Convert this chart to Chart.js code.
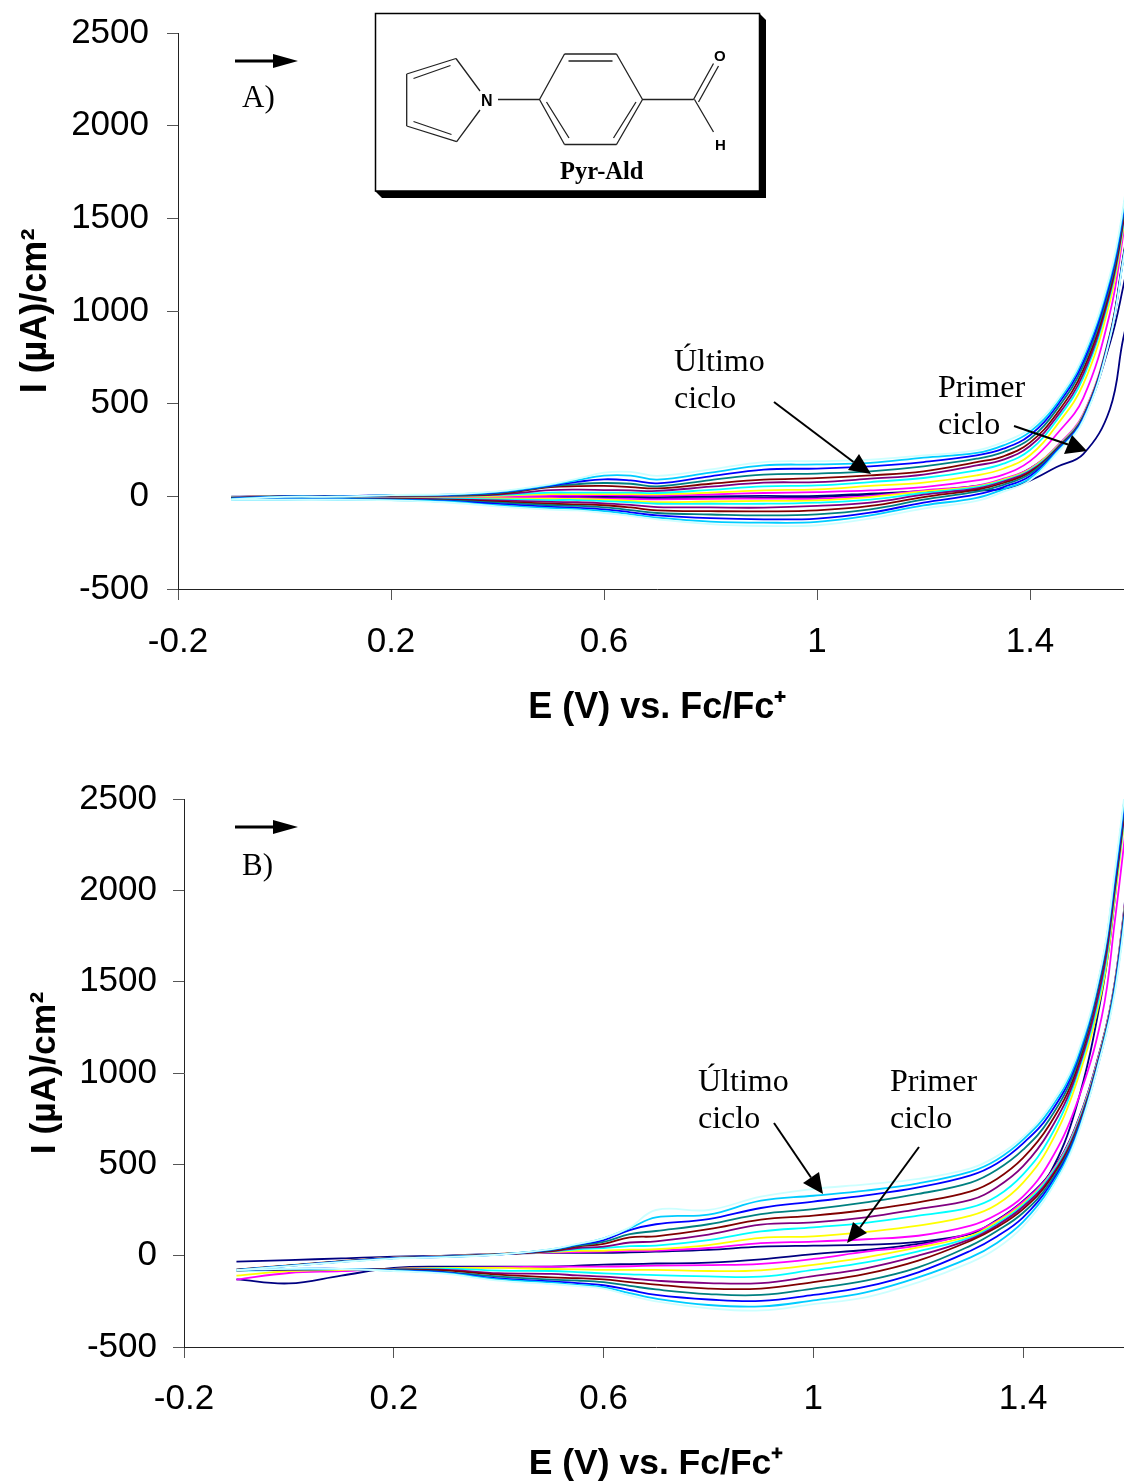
<!DOCTYPE html>
<html lang="es">
<head>
<meta charset="UTF-8">
<title>Pyr-Ald</title>
<script src="https://cdn.jsdelivr.net/npm/chart.js@4/dist/chart.umd.min.js"></script>
<style>
html, body { margin: 0; padding: 0; background: #fff; overflow: hidden; }
#page { position: relative; width: 1124px; height: 1484px; overflow: hidden; }
canvas { position: absolute; left: 0; }
</style>
</head>
<body>
<div id="page">
    <canvas id="chartA" width="1160" height="780" style="top:-40px"></canvas>
    <canvas id="chartB" width="1160" height="748" style="top:740px"></canvas>
</div>
<script>
// potential grid (V), same for both scan directions
const potentials = [-0.1,0,0.1,0.2,0.3,0.4,0.5,0.55,0.6,0.65,0.7,0.8,0.9,1.0,1.1,1.2,1.3,1.35,1.4,1.45,1.5,1.55,1.575,1.6];
const xTicks = [-0.2,0.2,0.6,1,1.4];
const yTicks = [-500,0,500,1000,1500,2000,2500];
const cycleColors = ['#000080','#FF00FF','#FFFF00','#00FFFF','#800080','#800000','#008080','#0000FF','#00CCFF','#CCFFFF'];

// A) forward scan, cycle 1..10
const a1Forward = [-6,-8,-8,-8,-8,-6,-6,-7,-8,-10,-12,-10,-8,-4,8,25,32,40,85,158,228,470,850,1150];
const a2Forward = [-8,-9,-9,-10,-9,-8,-8,-10,-12,-14,-16,-14,-12,-12,2,32,58,95,150,270,445,875,1295,1725];
const a3Forward = [-9,-10,-10,-11,-11,-11,-13,-14,-18,-24,-31,-28,-25,-22,-4,27,54,90,146,265,440,872,1293,1722];
const a4Forward = [-10,-11,-11,-12,-13,-16,-20,-20,-26,-32,-40,-40,-40,-34,-18,18,50,85,142,262,436,870,1290,1719];
const a5Forward = [-11,-12,-12,-13,-16,-22,-30,-32,-38,-46,-58,-60,-61,-52,-34,9,43,80,136,258,432,868,1287,1716];
const a6Forward = [-12,-13,-13,-15,-19,-28,-40,-44,-48,-60,-76,-80,-81,-76,-52,-4,36,72,130,254,428,865,1284,1713];
const a7Forward = [-14,-14,-14,-16,-22,-34,-48,-52,-60,-74,-90,-98,-103,-97,-70,-18,25,62,122,250,424,862,1281,1710];
const a8Forward = [-15,-15,-15,-18,-25,-41,-57,-62,-70,-86,-103,-118,-124,-120,-88,-34,10,50,110,245,420,858,1278,1707];
const a9Forward = [-17,-17,-17,-20,-28,-48,-64,-70,-80,-97,-115,-136,-142,-138,-103,-49,-8,38,98,238,414,854,1274,1703];
const a10Forward = [-18,-18,-18,-22,-32,-54,-72,-76,-90,-106,-124,-150,-160,-156,-120,-66,-25,25,86,232,408,850,1270,1700];
// A) return scan
const a1Return = [-2,2,1,-1,-3,-3,-3,-2,-2,-3,-4,0,2,2,15,29,56,86,150,262,425,825,1130,1500];
const a2Return = [-4,2,1,0,-1,0,3,4,6,5,4,10,18,23,32,50,86,117,190,335,530,987,1410,1890];
const a3Return = [-5,2,1,1,0,3,12,12,12,12,11,20,32,38,56,74,113,149,222,383,605,1050,1440,1930];
const a4Return = [-6,1,1,2,2,7,20,20,20,20,18,35,54,59,77,99,140,176,250,410,640,1080,1460,1960];
const a5Return = [-7,1,1,3,3,10,33,36,34,32,29,52,74,77,95,117,167,198,272,428,660,1095,1475,1980];
const a6Return = [-9,0,1,4,5,14,50,55,56,50,43,68,90,98,113,135,185,216,290,446,682,1115,1490,2000];
const a7Return = [-10,0,0,5,6,17,54,66,72,68,54,88,117,123,135,162,203,239,310,468,705,1135,1510,2030];
const a8Return = [-12,-1,0,6,8,21,58,78,92,86,70,108,144,150,162,185,221,257,330,486,725,1155,1525,2050];
const a9Return = [-14,-2,-1,6,9,24,62,88,112,112,90,128,167,172,180,209,234,275,348,500,745,1175,1540,2070];
const a10Return = [-16,-3,-2,7,11,27,66,95,128,132,110,145,185,190,198,221,248,293,365,514,761,1193,1560,2100];

// B) forward scan
const b1Forward = [-130,-152,-109,-67,-60,-60,-60,-55,-49,-46,-43,-38,-20,9,31,64,120,195,300,445,705,1160,1500,2080];
const b2Forward = [-131,-95,-85,-72,-67,-64,-60,-60,-60,-58,-55,-52,-45,-18,22,55,125,190,295,440,700,1155,1495,2070];
const b3Forward = [-109,-85,-78,-72,-67,-67,-73,-75,-78,-78,-78,-84,-80,-50,-9,45,109,185,285,435,695,1150,1490,2060];
const b4Forward = [-82,-78,-74,-74,-71,-82,-84,-90,-97,-102,-107,-113,-115,-78,-37,24,100,175,278,430,690,1145,1485,2050];
const b5Forward = [-80,-76,-73,-75,-78,-96,-100,-108,-115,-125,-137,-150,-150,-112,-69,0,91,165,268,420,680,1140,1480,2040];
const b6Forward = [-80,-75,-73,-76,-82,-104,-119,-123,-130,-145,-158,-180,-180,-145,-100,-27,82,155,255,410,670,1135,1475,2030];
const b7Forward = [-79,-74,-72,-78,-90,-115,-131,-136,-145,-165,-185,-210,-215,-180,-137,-64,55,135,235,395,660,1130,1470,2020];
const b8Forward = [-79,-73,-72,-80,-93,-124,-141,-150,-162,-188,-215,-240,-248,-215,-170,-91,27,105,210,380,650,1125,1465,2010];
const b9Forward = [-78,-72,-73,-82,-96,-130,-148,-160,-172,-205,-235,-270,-278,-245,-201,-119,-9,70,185,365,640,1120,1455,2000];
const b10Forward = [-78,-72,-73,-84,-100,-137,-155,-166,-180,-218,-250,-288,-300,-265,-228,-146,-37,40,160,345,630,1115,1440,1980];
// B) return scan
const b1Return = [-33,-24,-15,-5,0,10,15,15,15,18,22,32,49,55,60,75,119,175,270,445,800,1434,1960,2720];
const b2Return = [-76,-53,-30,-11,-3,9,17,20,22,26,28,42,69,77,90,109,164,225,325,510,815,1308,1834,2440];
const b3Return = [-76,-53,-30,-11,-3,9,20,26,27,33,35,58,97,106,130,164,219,280,400,600,930,1450,1954,2550];
const b4Return = [-77,-54,-31,-12,-4,8,22,35,42,52,55,85,133,155,180,219,264,325,445,640,962,1480,1985,2560];
const b5Return = [-77,-54,-31,-12,-4,8,24,42,50,72,78,115,170,182,210,255,305,375,490,680,980,1510,2005,2580];
const b6Return = [-78,-55,-32,-13,-5,7,26,50,65,100,106,145,197,219,250,292,352,420,535,715,1003,1549,2025,2600];
const b7Return = [-78,-55,-32,-13,-5,7,30,55,75,118,135,172,228,255,292,338,400,470,580,745,1025,1565,2045,2620];
const b8Return = [-79,-56,-33,-14,-6,6,33,60,85,140,172,200,261,296,330,374,440,505,615,772,1044,1580,2060,2640];
const b9Return = [-79,-56,-34,-15,-7,6,35,62,95,150,210,225,301,328,356,396,460,525,635,794,1058,1590,2085,2660];
const b10Return = [-80,-57,-35,-16,-8,5,36,65,95,155,250,250,323,365,390,420,478,545,650,812,1077,1600,2107,2680];

const aForward = [a1Forward,a2Forward,a3Forward,a4Forward,a5Forward,a6Forward,a7Forward,a8Forward,a9Forward,a10Forward];
const aReturn = [a1Return,a2Return,a3Return,a4Return,a5Return,a6Return,a7Return,a8Return,a9Return,a10Return];
const bForward = [b1Forward,b2Forward,b3Forward,b4Forward,b5Forward,b6Forward,b7Forward,b8Forward,b9Forward,b10Forward];
const bReturn = [b1Return,b2Return,b3Return,b4Return,b5Return,b6Return,b7Return,b8Return,b9Return,b10Return];

const SANS = '"Liberation Sans", Arial, sans-serif';
const SERIF = '"Liberation Serif", "Times New Roman", serif';

function makeDatasets(forward, back) {
    var out = [];
    for (var i = 0; i < forward.length; i++) {
        [forward[i], back[i]].forEach(function(values, k) {
            out.push({
                label: 'ciclo ' + (i + 1) + (k ? ' retorno' : ''),
                data: values.map(function(v, j) { return {x: potentials[j], y: v}; }),
                borderColor: cycleColors[i],
                borderWidth: 1.8,
                pointRadius: 0,
                showLine: true,
                tension: 0.4,
                order: 10 - i   // last cycle on top
            });
        });
    }
    return out;
}

function arrow(c, tail, tip, h1, h2, width) {
    c.strokeStyle = '#000';
    c.fillStyle = '#000';
    c.lineWidth = width;
    c.beginPath();
    c.moveTo(tail[0], tail[1]);
    c.lineTo((h1[0] + h2[0]) / 2, (h1[1] + h2[1]) / 2);
    c.stroke();
    c.beginPath();
    c.moveTo(tip[0], tip[1]);
    c.lineTo(h1[0], h1[1]);
    c.lineTo(h2[0], h2[1]);
    c.closePath();
    c.fill();
}

function label(c, text, x, y, font) {
    c.font = font;
    c.fillStyle = '#000';
    c.textAlign = 'left';
    c.textBaseline = 'alphabetic';
    c.fillText(text, x, y);
}

function bonds(c, list) {
    c.beginPath();
    list.forEach(function(b) {
        c.moveTo(b[0], b[1]);
        c.lineTo(b[2], b[3]);
    });
    c.stroke();
}

function drawInset(c) {
    // shadow with cut corners, then the box
    c.fillStyle = '#000';
    c.beginPath();
    c.moveTo(759, 13);
    c.lineTo(766, 20);
    c.lineTo(766, 198);
    c.lineTo(382, 198);
    c.lineTo(375, 191);
    c.closePath();
    c.fill();
    c.fillStyle = '#fff';
    c.strokeStyle = '#000';
    c.lineWidth = 1.5;
    c.fillRect(375.5, 13.5, 384, 177.5);
    c.strokeRect(375.5, 13.5, 384, 177.5);

    c.strokeStyle = '#222';
    c.lineWidth = 1.3;
    bonds(c, [
        [480, 91, 456, 58.5], [456, 58.5, 406.7, 74], [406.7, 74, 406.7, 126], [406.7, 126, 456.7, 141.7], [456.7, 141.7, 480, 110],
        [450.5, 65.5, 413.5, 78.5], [413.5, 121.5, 451.5, 134.5],
        [498, 99.5, 539.5, 99.5],
        [539.5, 99.5, 564.5, 54], [564.5, 54, 616.5, 54], [616.5, 54, 642.5, 99.5], [642.5, 99.5, 616.5, 144.5], [616.5, 144.5, 564.5, 144.5], [564.5, 144.5, 539.5, 99.5],
        [568.5, 61, 612.5, 61], [546.5, 102, 569, 138], [636, 102, 613.5, 138],
        [642.5, 99.5, 693.5, 99.5],
        [693.5, 99.5, 713.5, 63.5], [698.5, 102, 718.5, 66],
        [694.5, 99.5, 713.5, 132]
    ]);
    label(c, 'N', 481, 106, 'bold 16px ' + SANS);
    label(c, 'O', 714, 61, 'bold 15px ' + SANS);
    label(c, 'H', 715, 150, 'bold 15px ' + SANS);
    label(c, 'Pyr-Ald', 560, 179, 'bold 24.5px ' + SERIF);
}

// notes, arrows and the structure box, in page coordinates
const notesPlugin = {
    id: 'notes',
    afterDraw: function(chart, args, opts) {
        var c = chart.ctx;
        c.save();
        c.translate(0, -opts.top);
        if (opts.panel === 'A') {
            drawInset(c);
            arrow(c, [235, 61], [298, 61], [273, 54], [273, 68], 3);
            label(c, 'A)', 242, 107, '31px ' + SERIF);
            label(c, 'Último', 674, 371, '32px ' + SERIF);
            label(c, 'ciclo', 674, 408, '32px ' + SERIF);
            label(c, 'Primer', 938, 397, '32px ' + SERIF);
            label(c, 'ciclo', 938, 434, '32px ' + SERIF);
            arrow(c, [774, 402], [871, 474], [859, 454], [848, 470], 2);
            arrow(c, [1014, 426], [1087, 451], [1072, 435], [1064, 454], 2);
        } else {
            arrow(c, [235, 827], [298, 827], [273, 820], [273, 834], 3);
            label(c, 'B)', 242, 875, '31px ' + SERIF);
            label(c, 'Último', 698, 1091, '32px ' + SERIF);
            label(c, 'ciclo', 698, 1128, '32px ' + SERIF);
            label(c, 'Primer', 890, 1091, '32px ' + SERIF);
            label(c, 'ciclo', 890, 1128, '32px ' + SERIF);
            arrow(c, [774, 1123], [823, 1194], [819, 1172], [803, 1183], 2);
            arrow(c, [919, 1147], [847, 1243], [867, 1233], [853, 1222], 2);
        }
        c.restore();
    }
};

function makeChart(id, forward, back, box) {
    return new Chart(document.getElementById(id), {
        type: 'scatter',
        data: {datasets: makeDatasets(forward, back)},
        plugins: [notesPlugin],
        options: {
            responsive: false,
            animation: false,
            devicePixelRatio: 1,
            layout: {
                autoPadding: false,
                padding: {left: 0, top: box.top, right: box.canvasW - box.right, bottom: 0}
            },
            plugins: {
                legend: {display: false},
                tooltip: {enabled: false},
                notes: {panel: box.panel, top: box.offset}
            },
            scales: {
                x: {
                    type: 'linear',
                    min: -0.2,
                    max: 1.6,
                    afterBuildTicks: function(s) { s.ticks = xTicks.map(function(v) { return {value: v}; }); },
                    afterFit: function(s) { s.height = box.canvasH - box.bottom; },
                    grid: {drawOnChartArea: false, tickLength: 11, tickColor: '#555', tickWidth: 1},
                    border: {color: '#222', width: 1},
                    ticks: {
                        font: {family: SANS, size: 35},
                        color: '#000',
                        padding: box.xPad,
                        maxRotation: 0,
                        autoSkip: false,
                        callback: function(v) { return String(v); }
                    },
                    title: {
                        display: true,
                        text: 'E (V) vs. Fc/Fc⁺',
                        color: '#000',
                        font: {family: SANS, size: box.titleSize, weight: 'bold'},
                        padding: {top: 0, bottom: box.titleBottom}
                    }
                },
                y: {
                    type: 'linear',
                    min: -500,
                    max: 2500,
                    afterBuildTicks: function(s) { s.ticks = yTicks.map(function(v) { return {value: v}; }); },
                    afterFit: function(s) { s.width = box.left; },
                    grid: {drawOnChartArea: false, tickLength: 11, tickColor: '#555', tickWidth: 1},
                    border: {color: '#222', width: 1},
                    ticks: {
                        font: {family: SANS, size: 35},
                        color: '#000',
                        padding: box.yPad,
                        autoSkip: false,
                        callback: function(v) { return String(v); }
                    },
                    title: {
                        display: true,
                        text: 'I (µA)/cm²',
                        color: '#000',
                        font: {family: SANS, size: box.titleSize, weight: 'bold'},
                        padding: {top: box.titleLeft, bottom: 0}
                    }
                }
            }
        }
    });
}

makeChart('chartA', aForward, aReturn, {panel: 'A', offset: -40, canvasW: 1160, canvasH: 780, left: 178, right: 1136.5, top: 73, bottom: 629, xPad: 21, yPad: 18, titleBottom: 10.8, titleLeft: 14.5, titleSize: 36});
makeChart('chartB', bForward, bReturn, {panel: 'B', offset: 740, canvasW: 1160, canvasH: 748, left: 184, right: 1128, top: 59, bottom: 607, xPad: 20, yPad: 16, titleBottom: 2, titleLeft: 24, titleSize: 35.5});
</script>
</body>
</html>
